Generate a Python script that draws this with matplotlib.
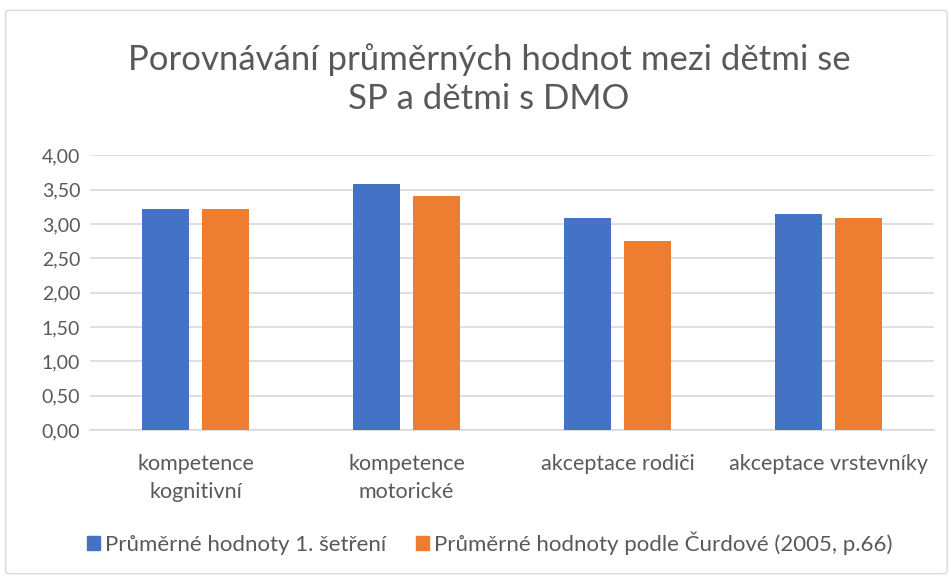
import numpy as np
import matplotlib
matplotlib.use("Agg")
import matplotlib.pyplot as plt
from matplotlib.patches import FancyBboxPatch, Patch

# ── data ─────────────────────────────────────────────────────────────────────
categories = ["kompetence\nkognitivní", "kompetence\nmotorické",
              "akceptace rodiči", "akceptace vrstevníky"]
series_1 = [3.21, 3.58, 3.08, 3.15]
series_2 = [3.22, 3.41, 2.75, 3.09]
labels = ["Průměrné hodnoty 1. šetření",
          "Průměrné hodnoty podle Čurdové (2005, p.66)"]
yticks = [0.0, 0.5, 1.0, 1.5, 2.0, 2.5, 3.0, 3.5, 4.0]

# ── palette ──────────────────────────────────────────────────────────────────
BLUE = "#4472c4"
ORANGE = "#ed7d31"
TXT = "#595959"
GRID = "#d9d9d9"

plt.rcParams["font.family"] = ["Lato", "DejaVu Sans"]

fig = plt.figure(figsize=(9.51, 5.76), dpi=100, facecolor="white")
fig.patches.append(FancyBboxPatch((0.006, 0.004), 0.99, 0.978,
                                  boxstyle="round,pad=0,rounding_size=0.004",
                                  transform=fig.transFigure, fill=False,
                                  edgecolor="#d9d9d9", linewidth=1.0))

ax = fig.add_axes([0.0946, 0.2535, 0.888, 0.477])
x = np.arange(len(categories))
off = 0.142
w = 0.223
ax.bar(x - off, series_1, width=w, color=BLUE, zorder=3, label=labels[0])
ax.bar(x + off, series_2, width=w, color=ORANGE, zorder=3, label=labels[1])

ax.set_xlim(-0.5, len(categories) - 0.5)
ax.set_ylim(0, 4)
ax.set_yticks(yticks)
ax.set_yticklabels([f"{v:.2f}".replace(".", ",") for v in yticks],
                   fontsize=14, color=TXT)
ax.set_xticks(x)
ax.set_xticklabels(categories, fontsize=15.5, color=TXT, linespacing=1.5)
ax.tick_params(axis="both", length=0)
ax.tick_params(axis="y", pad=7)
ax.tick_params(axis="x", pad=17)
ax.grid(axis="y", color=GRID, linewidth=1.2, zorder=0)
for s in ["top", "right", "left"]:
    ax.spines[s].set_visible(False)
ax.spines["bottom"].set_color(GRID)
ax.spines["bottom"].set_linewidth(1.2)

fig.text(0.514, 0.863, "Porovnávání průměrných hodnot mezi dětmi se\nSP a dětmi s DMO",
         ha="center", va="center", fontsize=25, color=TXT, linespacing=1.25)

handles = [Patch(color=BLUE), Patch(color=ORANGE)]
fig.legend(handles, labels, loc="center", bbox_to_anchor=(0.515, 0.057), ncol=2,
           frameon=False, fontsize=16, labelcolor=TXT, handlelength=0.6,
           handleheight=0.6, handletextpad=0.25, columnspacing=1.3)

fig.savefig("out.png", dpi=100, facecolor="white")
